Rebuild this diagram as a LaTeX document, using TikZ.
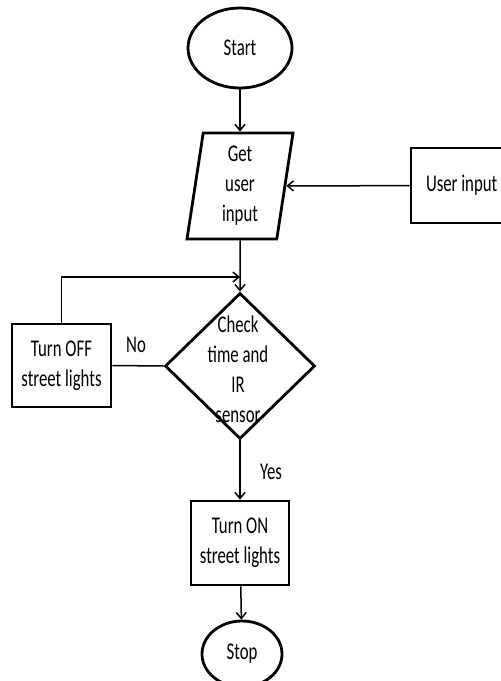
\documentclass[tikz,border=0pt]{standalone}
\usepackage{fontspec}
\setmainfont[FakeStretch=0.7]{Carlito}
\usepackage{tikz}
\usetikzlibrary{shapes.geometric, arrows.meta}

\begin{document}
\begin{tikzpicture}[x=1pt, y=-1pt,
    every node/.style={font=\fontsize{24}{30}\selectfont, align=center, inner sep=2pt},
    terminal/.style={ellipse, draw, line width=2.8pt},
    process/.style={rectangle, draw, line width=2.8pt},
    io/.style={trapezium, trapezium left angle=79, trapezium right angle=101, trapezium stretches body, draw, line width=2.8pt},
    decision/.style={diamond, draw, line width=2.8pt, inner sep=0pt},
    link/.style={line width=1.5pt, -{Straight Barb[length=6pt, width=10pt]}}]
    \useasboundingbox (0,0) rectangle (501,681);
    \clip (0,0) rectangle (501,681);

    \node[terminal, minimum width=104pt, minimum height=80pt] (start) at (240,48) {Start};
    \node[io, minimum width=106pt, minimum height=106pt] (input) at (240,186) {Get\\user\\input};
    \node[process, minimum width=124pt, minimum height=75pt, inner xsep=15pt, text width=94pt, align=flush left] (userin) at (473,185.5) {User input};
    \node[decision, minimum width=150pt, minimum height=146pt] (check) at (240,366) {};
    \node (checktxt) at (238,369) {Check\\time and\\IR\\sensor};
    \node[process, minimum width=99pt, minimum height=83pt] (off) at (61.5,365.5) {Turn OFF\\street lights};
    \node[process, minimum width=98pt, minimum height=84pt] (on) at (240,543) {Turn ON\\street lights};
    \node[terminal, minimum width=80pt, minimum height=66pt] (stop) at (242,654) {Stop};
    \coordinate (join) at (240,277);

    \draw[link] (start) -- (input);
    \draw[link] (userin) -- (input);
    \draw[link] (input) -- (check);
    \draw[link] (off.north) |- (join);
    \draw[line width=1.5pt] (check.west) -- (off.east);
    \draw[link] (check) -- (on);
    \draw[link] (on) -- (stop);

    \node (no) at (136,345) {No};
    \node (yes) at (271,472) {Yes};
\end{tikzpicture}
\end{document}
